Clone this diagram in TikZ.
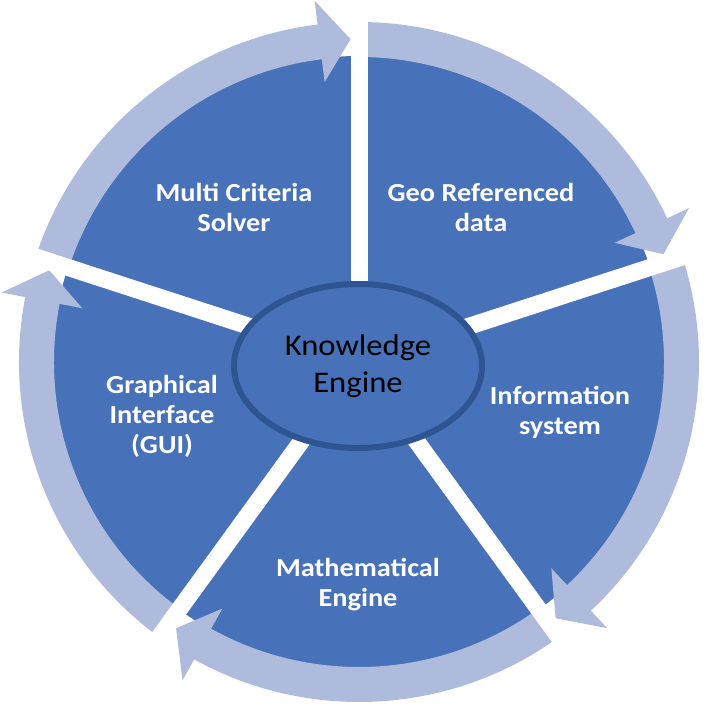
\documentclass[tikz,border=0pt]{standalone}
\usepackage{fontspec}
\setmainfont[FakeStretch=1.09]{Carlito}
\definecolor{pieblue}{RGB}{71,114,186}
\definecolor{ringblue}{RGB}{175,187,221}
\definecolor{rimblue}{RGB}{47,84,146}

% radii of the cycle (in pt, centre of the wheel at the origin)
\def\rPie{306}
\def\rIn{305}
\def\rOut{340}
\def\rMid{323}
\def\rWingIn{282}
\def\rWingOut{364}

\tikzset{
  seglabel/.style={font=\fontsize{26}{30}\selectfont\bfseries, text=white, align=center},
  hublabel/.style={font=\fontsize{30}{37}\selectfont, text=black, align=center},
  hub/.style={ellipse, draw=rimblue, line width=6pt, fill=pieblue,
    minimum width=248pt, minimum height=164pt, inner sep=0pt},
  cyclearrow/.style={fill=ringblue, draw=none},
  gapbar/.style={draw=white, line width=17pt},
}

\usetikzlibrary{shapes.geometric}

\begin{document}
\begin{tikzpicture}[x=1pt,y=1pt]
\useasboundingbox (-359,-349) rectangle (347,362);

% the wheel
\fill[pieblue] (0,0) circle[radius=\rPie];

% clockwise arrows, one per segment, tail at a gap and head at the next one
\foreach \a in {162,90,18,-54,-126}{
  \pgfmathsetmacro{\b}{\a-72}
  \pgfmathsetmacro{\tip}{\b+1.5}
  \pgfmathsetmacro{\hb}{\b+7}
  \fill[cyclearrow] (\a:\rOut) arc[start angle=\a, end angle=\hb, radius=\rOut]
    -- (\hb:\rWingOut) -- (\tip:\rMid) -- (\hb:\rWingIn) -- (\hb:\rIn)
    arc[start angle=\hb, end angle=\a, radius=\rIn] -- cycle;
}

% white gaps between the segments
\foreach \g in {162,90,18,-54,-126}{
  \draw[gapbar] (0,0) -- (\g:372);
}

% central hub
\node[hub, hublabel] (hub) at (-1,-4) {Knowledge\\Engine};

% segment labels
\node[seglabel] (solver) at (-125,155) {Multi Criteria\\Solver};
\node[seglabel] (geo) at (122,155) {Geo Referenced\\data};
\node[seglabel] (info) at (201,-50) {Information\\system};
\node[seglabel] (math) at (-1,-223) {Mathematical\\Engine};
\node[seglabel] (gui) at (-197,-54) {Graphical\\Interface\\(GUI)};
\end{tikzpicture}
\end{document}
